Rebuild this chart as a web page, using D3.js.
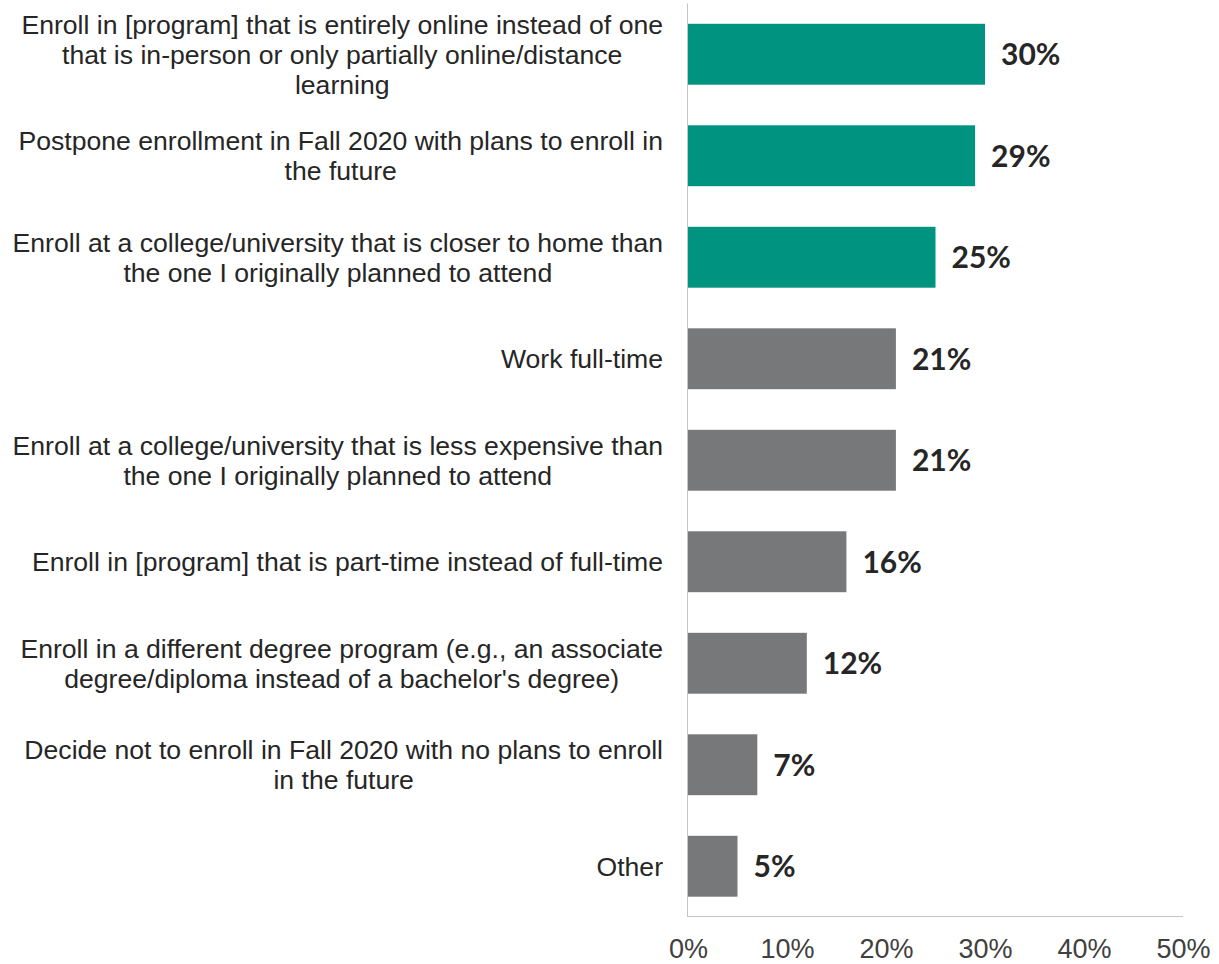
<!DOCTYPE html>
<html>
<head>
<meta charset="utf-8">
<script src="https://cdn.jsdelivr.net/npm/d3@7"></script>
<style>
  html, body { margin: 0; padding: 0; background: #ffffff; }
  svg { display: block; }
</style>
</head>
<body>
<svg id="chart" width="1219" height="964"></svg>
<script>
// Response options, one entry per bar (lines as they wrap under the label column)
const categories = [
  ["Enroll in [program] that is entirely online instead of one", "that is in-person or only partially online/distance", "learning"],
  ["Postpone enrollment in Fall 2020 with plans to enroll in", "the future"],
  ["Enroll at a college/university that is closer to home than", "the one I originally planned to attend"],
  ["Work full-time"],
  ["Enroll at a college/university that is less expensive than", "the one I originally planned to attend"],
  ["Enroll in [program] that is part-time instead of full-time"],
  ["Enroll in a different degree program (e.g., an associate", "degree/diploma instead of a bachelor's degree)"],
  ["Decide not to enroll in Fall 2020 with no plans to enroll", "in the future"],
  ["Other"]
];
// Share of respondents choosing each option (%)
const values = [30, 29, 25, 21, 21, 16, 12, 7, 5];
// The top three options are highlighted
const highlighted = [true, true, true, false, false, false, false, false, false];
const xTicks = [0, 10, 20, 30, 40, 50];

const svg = d3.select("#chart");
const margin = { left: 688, right: 36, top: 3.5, bottom: 47 };
const width = 1219, height = 964;

const x = d3.scaleLinear().domain([0, 50]).range([margin.left, width - margin.right]);
const y = d3.scaleBand()
  .domain(d3.range(categories.length))
  .range([margin.top, height - margin.bottom])
  .paddingInner(0.4)
  .paddingOuter(0.2);

const teal = "#00937f";
const grey = "#77787a";
const textColor = "#262626";
const axisColor = "#c4c4c4";

// Bars
svg.append("g")
  .selectAll("rect")
  .data(values)
  .join("rect")
  .attr("x", x(0))
  .attr("y", (d, i) => y(i))
  .attr("width", d => x(d) - x(0))
  .attr("height", y.bandwidth())
  .attr("fill", (d, i) => highlighted[i] ? teal : grey);

// Axis lines (left and bottom)
const plotBottom = height - margin.bottom;
svg.append("line")
  .attr("x1", x(0) - 0.5).attr("x2", x(0) - 0.5)
  .attr("y1", margin.top).attr("y2", plotBottom)
  .attr("stroke", axisColor).attr("stroke-width", 1);
svg.append("line")
  .attr("x1", x(0) - 0.5).attr("x2", x(50))
  .attr("y1", plotBottom - 0.5).attr("y2", plotBottom - 0.5)
  .attr("stroke", axisColor).attr("stroke-width", 1);

// Bottom tick labels
const xAxis = d3.axisBottom(x)
  .tickValues(xTicks)
  .tickFormat(d => d + "%")
  .tickSize(0)
  .tickPadding(0);
const gx = svg.append("g")
  .attr("transform", `translate(0,${plotBottom})`)
  .call(xAxis);
gx.select(".domain").remove();
gx.selectAll("text")
  .attr("y", 41)
  .attr("dy", null)
  .attr("fill", "#404040")
  .style("font-family", "'Liberation Sans', Arial, sans-serif")
  .style("font-size", "27px");

// Value labels
svg.append("g")
  .selectAll("text")
  .data(values)
  .join("text")
  .attr("x", d => x(d) + 16)
  .attr("y", (d, i) => y(i) + y.bandwidth() / 2)
  .attr("dy", "0.36em")
  .attr("fill", textColor)
  .style("font-family", "Lato, sans-serif")
  .style("font-weight", "700")
  .style("font-size", "30px")
  .text(d => d + "%");

// Category labels: wrapped lines centred on the widest line, block right-aligned to the axis
const labelRight = x(0) - 25;
const lineHeight = 30;
const labelGroup = svg.append("g")
  .style("font-family", "'Liberation Sans', Arial, sans-serif")
  .style("font-size", "26.6px")
  .attr("fill", textColor);

categories.forEach((lines, i) => {
  const g = labelGroup.append("g");
  const cy = y(i) + y.bandwidth() / 2;
  const texts = lines.map((line, k) =>
    g.append("text")
      .attr("y", cy + (k - (lines.length - 1) / 2) * lineHeight)
      .attr("dy", "0.35em")
      .text(line));
  const widest = d3.max(texts, t => t.node().getComputedTextLength());
  const cx = labelRight - widest / 2;
  texts.forEach(t => t.attr("x", cx).attr("text-anchor", "middle"));
});
</script>
</body>
</html>
